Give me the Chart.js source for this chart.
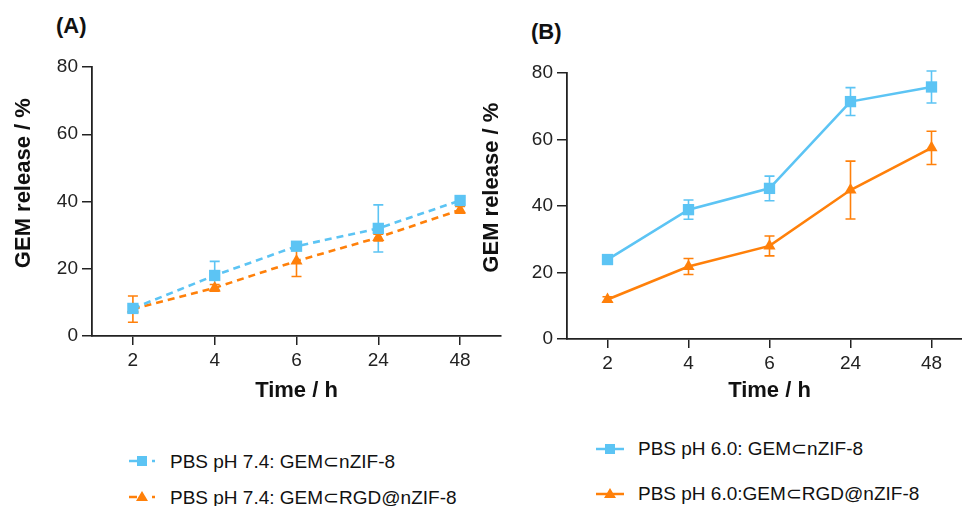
<!DOCTYPE html>
<html>
<head>
<meta charset="utf-8">
<script src="https://cdn.jsdelivr.net/npm/chart.js@4"></script>
<style>
  html, body { margin: 0; padding: 0; background: #fff; overflow: hidden; }
  body { width: 962px; height: 506px; position: relative; font-family: "Liberation Sans", Arial, sans-serif; color: #111; }
  .wrap { position: absolute; top: 0; height: 410px; }
  .panel-tag { position: absolute; font-weight: bold; font-size: 22px; }
  .legend { position: absolute; font-size: 19px; color: #111; }
  .legend div { display: flex; align-items: center; }
  .legend svg { margin-right: 14px; }
</style>
</head>
<body>
<div class="panel-tag" style="left:56px; top:13px;">(A)</div>
<div class="panel-tag" style="left:531px; top:19px;">(B)</div>
<div class="wrap" style="left:0; width:509px;"><canvas id="chartA"></canvas></div>
<div class="wrap" style="left:475px; width:505px;"><canvas id="chartB"></canvas></div>
<div class="legend" id="legendA" style="left:128px; top:443px;"></div>
<div class="legend" id="legendB" style="left:596px; top:426px;"></div>
<script>
"use strict";

const timeLabels = ["2", "4", "6", "24", "48"];

// (A) pH 7.4
const nzifA = [8.2, 18.0, 26.7, 32.0, 40.3];
const nzifAErr = [0.8, 4.2, 1.0, 7.0, 1.0];
const rgdA = [8.0, 14.3, 22.3, 29.3, 37.5];
const rgdAErr = [3.9, 1.0, 4.6, 1.0, 1.0];

// (B) pH 6.0
const nzifB = [23.9, 38.9, 45.3, 71.4, 75.8];
const nzifBErr = [0.8, 2.9, 3.7, 4.2, 4.8];
const rgdB = [11.9, 21.8, 28.0, 44.8, 57.5];
const rgdBErr = [0.8, 2.4, 3.0, 8.7, 5.0];

const blue = "rgb(92,196,244)";
const orange = "rgb(255,128,10)";
const ink = "#222";

// draws symmetric error bars using the chart's own scales
const errorBarPlugin = {
	id: "errorBars",
	beforeDatasetsDraw(chart) {
		const { ctx, scales } = chart;
		chart.data.datasets.forEach((ds) => {
			if (!ds.errors) return;
			ctx.save();
			ctx.strokeStyle = ds.borderColor;
			ctx.lineWidth = 1.6;
			ctx.setLineDash([]);
			ds.data.forEach((v, j) => {
				const x = scales.x.getPixelForValue(j);
				const yTop = scales.y.getPixelForValue(v + ds.errors[j]);
				const yBot = scales.y.getPixelForValue(v - ds.errors[j]);
				ctx.beginPath();
				ctx.moveTo(x, yTop);
				ctx.lineTo(x, yBot);
				ctx.moveTo(x - 5, yTop);
				ctx.lineTo(x + 5, yTop);
				ctx.moveTo(x - 5, yBot);
				ctx.lineTo(x + 5, yBot);
				ctx.stroke();
			});
			ctx.restore();
		});
	},
};

function makeSeries(label, values, errors, color, shape, dashed) {
	return {
		label: label,
		data: values,
		errors: errors,
		borderColor: color,
		backgroundColor: color,
		borderWidth: 2.6,
		borderDash: dashed ? [7, 5] : [],
		pointStyle: shape,
		pointRadius: shape === "rect" ? 8 : 7,
		pointBorderWidth: 0,
		tension: 0,
	};
}

function makeChart(element, datasets, opts) {
	return new Chart(element, {
		type: "line",
		data: { labels: timeLabels, datasets: datasets },
		plugins: [errorBarPlugin],
		options: {
			responsive: true,
			maintainAspectRatio: false,
			animation: false,
			layout: { padding: { top: opts.top, left: 0, right: 0, bottom: 0 } },
			plugins: { legend: { display: false }, tooltip: { enabled: false } },
			scales: {
				x: {
					type: "category",
					offset: true,
					grid: { display: true, drawOnChartArea: false, drawTicks: true, tickLength: 9, color: ink, lineWidth: 1.5 },
					border: { display: true, color: ink, width: 1.8 },
					ticks: { color: ink, font: { size: 19, family: "Liberation Sans" }, padding: 4, maxRotation: 0 },
					title: { display: true, text: "Time / h", color: "#111", font: { size: 22, weight: "bold", family: "Liberation Sans" }, padding: { top: 0, bottom: 6 } },
					afterFit(scale) { scale.height = 410 - opts.bottom; },
				},
				y: {
					min: 0,
					max: 80,
					grid: { display: true, drawOnChartArea: false, drawTicks: true, tickLength: 10, color: ink, lineWidth: 1.5 },
					border: { display: true, color: ink, width: 1.8 },
					ticks: { stepSize: 20, color: ink, font: { size: 19, family: "Liberation Sans" }, padding: 4 },
					title: {
						display: true,
						// leading spaces nudge the rotated title upward, as in the original figure
						text: "\u00a0\u00a0\u00a0\u00a0\u00a0\u00a0GEM release / %",
						color: "#111",
						font: { size: 22, weight: "bold", family: "Liberation Sans" },
						padding: { top: opts.titleLeft, bottom: 0 },
					},
					afterFit(scale) { scale.width = 92; },
				},
			},
		},
	});
}

makeChart(document.getElementById("chartA"), [
	makeSeries("PBS pH 7.4: GEM⊂nZIF-8", nzifA, nzifAErr, blue, "rect", true),
	makeSeries("PBS pH 7.4: GEM⊂RGD@nZIF-8", rgdA, rgdAErr, orange, "triangle", true),
], { top: 67, bottom: 336, titleLeft: 11 });

makeChart(document.getElementById("chartB"), [
	makeSeries("PBS pH 6.0: GEM⊂nZIF-8", nzifB, nzifBErr, blue, "rect", false),
	makeSeries("PBS pH 6.0:GEM⊂RGD@nZIF-8", rgdB, rgdBErr, orange, "triangle", false),
], { top: 73, bottom: 339, titleLeft: 4 });

// html legend: small svg swatch with line + marker
function legendSwatch(color, shape, dashed) {
	const line = dashed
		? `<line x1="1" y1="9" x2="9" y2="9" stroke="${color}" stroke-width="2.5"/><line x1="24" y1="9" x2="27" y2="9" stroke="${color}" stroke-width="2.5"/>`
		: `<line x1="0" y1="9" x2="28" y2="9" stroke="${color}" stroke-width="2.5"/>`;
	const mark = shape === "rect"
		? `<rect x="9" y="4" width="10" height="10" fill="${color}"/>`
		: `<polygon points="14,3 20,13 8,13" fill="${color}"/>`;
	return `<svg width="28" height="18">${line}${mark}</svg>`;
}

function fillLegend(id, items, rowHeight) {
	document.getElementById(id).innerHTML = items
		.map((it) => `<div style="height:${rowHeight}px">${legendSwatch(it.color, it.shape, it.dashed)}<span>${it.label}</span></div>`)
		.join("");
}

fillLegend("legendA", [
	{ label: "PBS pH 7.4: GEM⊂nZIF-8", color: blue, shape: "rect", dashed: true },
	{ label: "PBS pH 7.4: GEM⊂RGD@nZIF-8", color: orange, shape: "triangle", dashed: true },
], 36);
fillLegend("legendB", [
	{ label: "PBS pH 6.0: GEM⊂nZIF-8", color: blue, shape: "rect", dashed: false },
	{ label: "PBS pH 6.0:GEM⊂RGD@nZIF-8", color: orange, shape: "triangle", dashed: false },
], 45);
</script>
</body>
</html>
